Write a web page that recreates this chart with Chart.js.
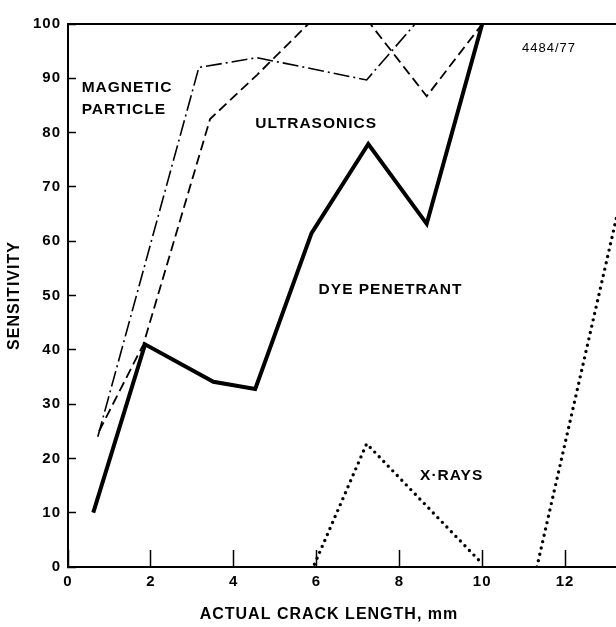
<!DOCTYPE html>
<html>
<head>
<meta charset="utf-8">
<script src="https://cdn.jsdelivr.net/npm/chart.js@4/dist/chart.umd.min.js"></script>
<style>
	html, body { margin:0; padding:0; background:#fff; overflow:hidden; }
</style>
</head>
<body>
<canvas id="myChart" width="616" height="627"></canvas>
<script>
	// Tick labels
	let xTicks = [0, 2, 4, 6, 8, 10, 12];
	let yTicks = [0, 10, 20, 30, 40, 50, 60, 70, 80, 90, 100];

	// Magnetic particle (dash-dot)
	let magX = [0.72, 3.16, 4.56, 7.21, 8.38, 10.0];
	let magY = [24, 92, 93.8, 89.7, 100, 100];

	// Ultrasonics (dashed)
	let ultX = [0.75, 1.82, 3.43, 4.56, 5.8, 7.3, 8.66, 10.0];
	let ultY = [25, 41, 82.5, 90.6, 100, 100, 86.7, 100];

	// Dye penetrant (thick)
	let dyeX = [0.61, 1.86, 3.51, 4.52, 5.88, 7.25, 8.66, 10.0];
	let dyeY = [10, 41, 34.1, 32.8, 61.5, 77.9, 63.2, 100];

	// X-rays (dotted), null = break in the line
	let xrayX = [5.95, 7.21, 9.95, 10.6, 11.32, 13.3];
	let xrayY = [0.5, 22.7, 1, null, 0, 66.3];

	let xTitle = 'ACTUAL CRACK LENGTH, mm';
	let fam = "'Liberation Sans', Arial, sans-serif";

	function pts(xs, ys) {
		return xs.map((x, i) => ({ x: x, y: ys[i] }));
	}

	// labels written inside the plot, placed in data units
	let notes = [
		{ text: 'MAGNETIC', x: 0.33, y: 88.3 },
		{ text: 'PARTICLE', x: 0.33, y: 84.2 },
		{ text: 'ULTRASONICS', x: 4.52, y: 81.6 },
		{ text: 'DYE PENETRANT', x: 6.05, y: 51.1 },
		{ text: 'X\u00B7RAYS', x: 8.5, y: 16.9 },
		{ text: '4484/77', x: 10.96, y: 95.5, small: true }
	];

	const spacing = {
		id: 'spacing',
		beforeInit(chart) { chart.ctx.letterSpacing = '1px'; },
		beforeDraw(chart) { chart.ctx.letterSpacing = '1px'; }
	};

	const notesPlugin = {
		id: 'notes',
		afterDatasetsDraw(chart) {
			let ctx = chart.ctx;
			let sx = chart.scales.x, sy = chart.scales.y;
			ctx.save();
			ctx.fillStyle = '#000';
			ctx.textAlign = 'left';
			ctx.textBaseline = 'middle';
			notes.forEach(n => {
				ctx.font = n.small ? '13px ' + fam : 'bold 15.5px ' + fam;
				ctx.fillText(n.text, sx.getPixelForValue(n.x), sy.getPixelForValue(n.y));
			});
			// axis title, the original is centred a little left of the cut plot
			ctx.font = 'bold 16px ' + fam;
			ctx.textAlign = 'center';
			ctx.fillText(xTitle, sx.getPixelForValue(6.3), sx.bottom - 12);
			ctx.restore();
		}
	};

	let tickFont = { family: fam, size: 15, weight: 'bold' };
	let titleFont = { family: fam, size: 16, weight: 'bold' };

	var ctx = document.getElementById('myChart').getContext('2d');

	var chart = new Chart(ctx, {
		type: 'line',
		data: {
			datasets: [{
				label: 'Magnetic particle',
				data: pts(magX, magY),
				borderColor: '#000',
				borderWidth: 1.6,
				borderDash: [16, 4, 2, 4]
			}, {
				label: 'Ultrasonics',
				data: pts(ultX, ultY),
				borderColor: '#000',
				borderWidth: 1.8,
				borderDash: [10, 5]
			}, {
				label: 'Dye penetrant',
				data: pts(dyeX, dyeY),
				borderColor: '#000',
				borderWidth: 4
			}, {
				label: 'X-rays',
				data: pts(xrayX, xrayY),
				borderColor: '#000',
				borderWidth: 3.4,
				borderDash: [0, 6.5],
				borderCapStyle: 'round',
				spanGaps: false
			}]
		},
		options: {
			responsive: false,
			animation: false,
			layout: { padding: { top: 15, right: 0, bottom: 0, left: 0 } },
			elements: { point: { radius: 0 }, line: { tension: 0, fill: false } },
			plugins: { legend: { display: false }, tooltip: { enabled: false } },
			scales: {
				x: {
					type: 'linear', position: 'bottom', min: 0, max: 13.23,
					afterFit: s => { s.height = 60; },
					afterBuildTicks: s => { s.ticks = xTicks.map(v => ({ value: v })); },
					grid: { drawOnChartArea: false, tickLength: -17, tickWidth: 1.5, tickColor: '#000' },
					border: { color: '#000', width: 2 },
					ticks: { color: '#000', padding: 23, maxRotation: 0, font: tickFont },
					title: { display: false }
				},
				top: {
					type: 'linear', position: 'top', min: 0, max: 13.23,
					afterFit: s => { s.height = 0; },
					grid: { display: false },
					ticks: { display: false },
					border: { color: '#000', width: 2 }
				},
				y: {
					min: 0, max: 100,
					afterFit: s => { s.width = 68; },
					afterBuildTicks: s => { s.ticks = yTicks.map(v => ({ value: v })); },
					grid: { drawOnChartArea: false, tickLength: -8, tickWidth: 1.5, tickColor: '#000' },
					border: { color: '#000', width: 2 },
					ticks: { color: '#000', padding: 15, font: tickFont },
					title: { display: true, text: 'SENSITIVITY', color: '#000', font: titleFont, padding: { top: 5, bottom: 0 } }
				}
			}
		},
		plugins: [spacing, notesPlugin]
	});
</script>
</body>
</html>
